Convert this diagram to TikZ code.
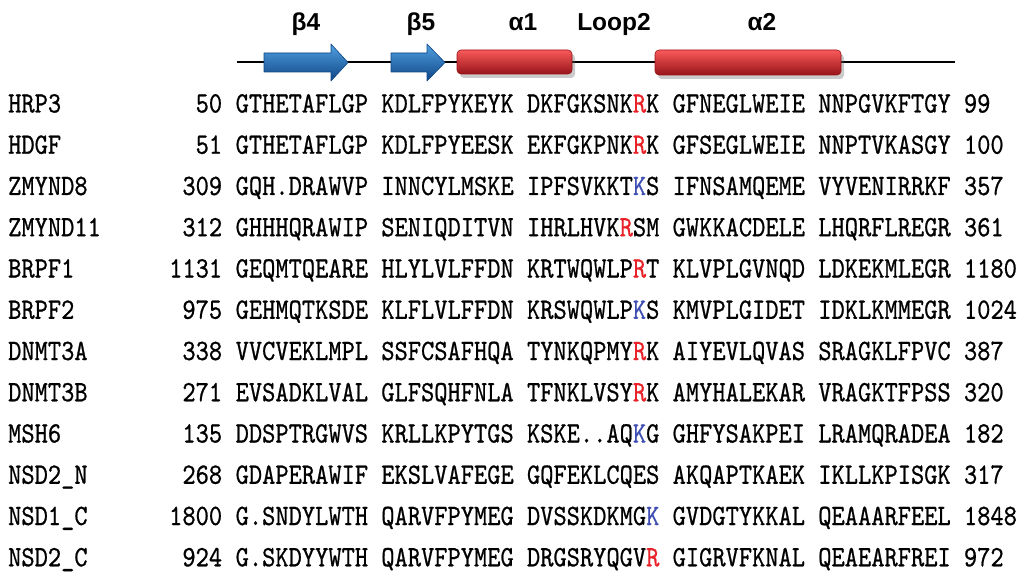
\documentclass[tikz,border=0pt]{standalone}
\usepackage{fontspec}
\newfontfamily\labfont{Liberation Sans}
\newfontfamily\seqfont{lmmono10-regular.otf}[FakeBold=0.8]
\usetikzlibrary{shadows}
\definecolor{resred}{RGB}{232,34,40}
\definecolor{resblue}{RGB}{62,78,178}
\definecolor{strandtop}{RGB}{80,160,225}
\definecolor{strandmid}{RGB}{31,110,185}
\definecolor{strandbot}{RGB}{15,70,135}
\definecolor{helixtop}{RGB}{250,90,90}
\definecolor{helixmid}{RGB}{232,30,36}
\definecolor{helixbot}{RGB}{150,20,25}
\newcommand{\rr}[1]{\textcolor{resred}{#1}}
\newcommand{\bk}[1]{\textcolor{resblue}{#1}}
\frenchspacing

\tikzset{
  seqtext/.style={inner sep=0pt, xscale=0.855, font=\fontsize{29.5}{30}\selectfont\seqfont},
  protname/.style={seqtext, anchor=base west},
  resnum/.style={seqtext, anchor=base east},
  seqrow/.style={seqtext, anchor=base west},
  sslabel/.style={inner sep=0pt, anchor=base, font=\fontsize{24.5}{26}\selectfont\labfont\bfseries},
  strand/.style={draw=strandbot, line width=0.6pt, line join=round,
    top color=strandtop, middle color=strandmid, bottom color=strandbot},
  helix/.style={draw=helixbot, line width=0.6pt, rounded corners=4pt,
    top color=helixtop, middle color=helixmid, bottom color=helixbot,
    drop shadow={shadow xshift=3pt, shadow yshift=-4pt, opacity=0.35, fill=black!60}},
}

\begin{document}
\begin{tikzpicture}[x=1pt, y=-1pt]
	\useasboundingbox (0,0) rectangle (1026,575);
	\clip (0,0) rectangle (1026,575);
	% secondary structure
	\coordinate (bbL) at (237,62);
	\coordinate (bbR) at (955,62);
	\draw[line width=2pt] (bbL) -- (bbR);
	\draw[strand] (264,53) -- (331,53) -- (331,44) -- (348,62.5) -- (331,81) -- (331,72) -- (264,72) -- cycle;
	\draw[strand] (391,53) -- (427,53) -- (427,44) -- (445,62.5) -- (427,81) -- (427,72) -- (391,72) -- cycle;
	\draw[helix] (457,50) rectangle (572,74);
	\draw[helix] (655,50) rectangle (841,75);
	\node[sslabel] (lbB4) at (306,31) {β4};
	\node[sslabel] (lbB5) at (421,31) {β5};
	\node[sslabel] (lbA1) at (523,31) {α1};
	\node[sslabel] (lbLoop) at (614,31) {Loop2};
	\node[sslabel] (lbA2) at (762,31) {α2};
	% alignment
	\node[protname] (nHRP3) at (8,112.5) {HRP3};
	\node[resnum] (rHRP3) at (222.3,112.5) {50};
	\node[seqrow] (sHRP3) at (235.5,112.5) {GTHETAFLGP KDLFPYKEYK DKFGKSNK\rr{R}K GFNEGLWEIE NNPGVKFTGY 99};
	\node[protname] (nHDGF) at (8,153.75) {HDGF};
	\node[resnum] (rHDGF) at (222.3,153.75) {51};
	\node[seqrow] (sHDGF) at (235.5,153.75) {GTHETAFLGP KDLFPYEESK EKFGKPNK\rr{R}K GFSEGLWEIE NNPTVKASGY 100};
	\node[protname] (nZMYND8) at (8,195) {ZMYND8};
	\node[resnum] (rZMYND8) at (222.3,195) {309};
	\node[seqrow] (sZMYND8) at (235.5,195) {GQH.DRAWVP INNCYLMSKE IPFSVKKT\bk{K}S IFNSAMQEME VYVENIRRKF 357};
	\node[protname] (nZMYND11) at (8,236.25) {ZMYND11};
	\node[resnum] (rZMYND11) at (222.3,236.25) {312};
	\node[seqrow] (sZMYND11) at (235.5,236.25) {GHHHQRAWIP SENIQDITVN IHRLHVK\rr{R}SM GWKKACDELE LHQRFLREGR 361};
	\node[protname] (nBRPF1) at (8,277.5) {BRPF1};
	\node[resnum] (rBRPF1) at (222.3,277.5) {1131};
	\node[seqrow] (sBRPF1) at (235.5,277.5) {GEQMTQEARE HLYLVLFFDN KRTWQWLP\rr{R}T KLVPLGVNQD LDKEKMLEGR 1180};
	\node[protname] (nBRPF2) at (8,318.75) {BRPF2};
	\node[resnum] (rBRPF2) at (222.3,318.75) {975};
	\node[seqrow] (sBRPF2) at (235.5,318.75) {GEHMQTKSDE KLFLVLFFDN KRSWQWLP\bk{K}S KMVPLGIDET IDKLKMMEGR 1024};
	\node[protname] (nDNMT3A) at (8,360) {DNMT3A};
	\node[resnum] (rDNMT3A) at (222.3,360) {338};
	\node[seqrow] (sDNMT3A) at (235.5,360) {VVCVEKLMPL SSFCSAFHQA TYNKQPMY\rr{R}K AIYEVLQVAS SRAGKLFPVC 387};
	\node[protname] (nDNMT3B) at (8,401.25) {DNMT3B};
	\node[resnum] (rDNMT3B) at (222.3,401.25) {271};
	\node[seqrow] (sDNMT3B) at (235.5,401.25) {EVSADKLVAL GLFSQHFNLA TFNKLVSY\rr{R}K AMYHALEKAR VRAGKTFPSS 320};
	\node[protname] (nMSH6) at (8,442.5) {MSH6};
	\node[resnum] (rMSH6) at (222.3,442.5) {135};
	\node[seqrow] (sMSH6) at (235.5,442.5) {DDSPTRGWVS KRLLKPYTGS KSKE..AQ\bk{K}G GHFYSAKPEI LRAMQRADEA 182};
	\node[protname] (nNSD2N) at (8,483.75) {NSD2\_N};
	\node[resnum] (rNSD2N) at (222.3,483.75) {268};
	\node[seqrow] (sNSD2N) at (235.5,483.75) {GDAPERAWIF EKSLVAFEGE GQFEKLCQES AKQAPTKAEK IKLLKPISGK 317};
	\node[protname] (nNSD1C) at (8,525) {NSD1\_C};
	\node[resnum] (rNSD1C) at (222.3,525) {1800};
	\node[seqrow] (sNSD1C) at (235.5,525) {G.SNDYLWTH QARVFPYMEG DVSSKDKMG\bk{K} GVDGTYKKAL QEAAARFEEL 1848};
	\node[protname] (nNSD2C) at (8,566.25) {NSD2\_C};
	\node[resnum] (rNSD2C) at (222.3,566.25) {924};
	\node[seqrow] (sNSD2C) at (235.5,566.25) {G.SKDYYWTH QARVFPYMEG DRGSRYQGV\rr{R} GIGRVFKNAL QEAEARFREI 972};
\end{tikzpicture}
\end{document}
